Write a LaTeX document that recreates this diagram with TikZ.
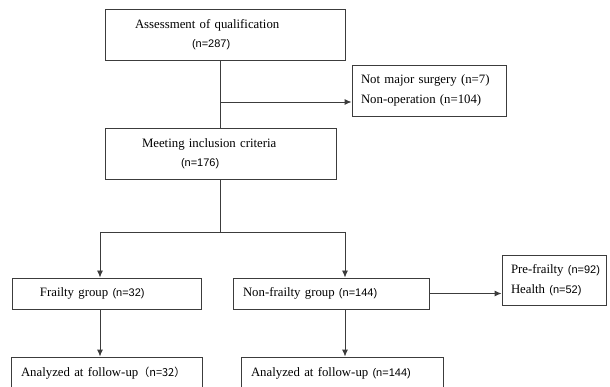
\documentclass[tikz,border=0pt]{standalone}
\usepackage{fontspec}
\setmainfont{Liberation Serif}
\setsansfont{Liberation Sans}
\newfontfamily\cjk{Noto Sans CJK SC}
\usetikzlibrary{arrows.meta,positioning}
\definecolor{linegray}{RGB}{60,60,60}
\newcommand{\nn}[1]{{\sffamily\fontsize{11}{12}\selectfont #1}}

\begin{document}
\begin{tikzpicture}[x=1pt, y=-1pt, every node/.style={font=\fontsize{12.8}{19.5}\selectfont},
  box/.style={draw=linegray, line width=0.9pt, rectangle, inner xsep=0pt, inner ysep=0pt, align=left},
  conn/.style={draw=linegray, line width=0.9pt},
  arr/.style={conn, -{Latex[length=7pt,width=6pt]}}]
\useasboundingbox (0,0) rectangle (610,387);
% main column
\node[box, text width=240pt, minimum height=51pt] (assess) at (225,34.5) {\hspace*{30pt}Assessment of qualification\\\hspace*{87pt}\nn{(n=287)}};
\node[box, text width=154pt, minimum height=51pt] (excl) at (429,90.5) {\hspace*{9pt}Not major surgery (n=7)\\\hspace*{9pt}Non-operation (n=104)};
\node[box, text width=231pt, minimum height=51pt] (incl) at (220.5,153.5) {\hspace*{37pt}Meeting inclusion criteria\\\hspace*{76pt}\nn{(n=176)}};
% groups
\node[box, text width=189pt, minimum height=31pt] (frail) at (106.5,293.5) {\hspace*{28pt}Frailty group \nn{(n=32)}};
\node[box, text width=196pt, minimum height=31pt] (nonfrail) at (331,293.5) {\hspace*{10pt}Non-frailty group \nn{(n=144)}};
\node[box, text width=104pt, minimum height=50pt] (sub) at (554,280) {\hspace*{9pt}Pre-frailty \nn{(n=92)}\\\hspace*{9pt}Health \nn{(n=52)}};
% follow-up
\node[box, text width=191pt, minimum height=33pt] (follow1) at (106.5,373.5) {\hspace*{10pt}Analyzed at follow-up{\cjk\fontsize{11}{12}\selectfont （n=32）}};
\node[box, text width=202pt, minimum height=33pt] (follow2) at (342,373.5) {\hspace*{10pt}Analyzed at follow-up \nn{(n=144)}};
% connectors
\coordinate (branch) at (220,102);
\coordinate (split) at (220.5,232);
\coordinate (splitL) at (100,232);
\coordinate (splitR) at (345,232);
\draw[conn] (incl.north |- assess.south) -- (incl.north);
\draw[arr] (branch) -- (branch -| excl.west);
\draw[conn] (incl.south) -- (split);
\draw[conn] (splitL) -- (splitR);
\draw[arr] (splitL) -- (splitL |- frail.north);
\draw[arr] (splitR) -- (splitR |- nonfrail.north);
\draw[arr] (splitL |- frail.south) -- (splitL |- follow1.north);
\draw[arr] (splitR |- nonfrail.south) -- (splitR |- follow2.north);
\draw[arr] (nonfrail.east) -- (nonfrail.east -| sub.west);
\end{tikzpicture}
\end{document}
